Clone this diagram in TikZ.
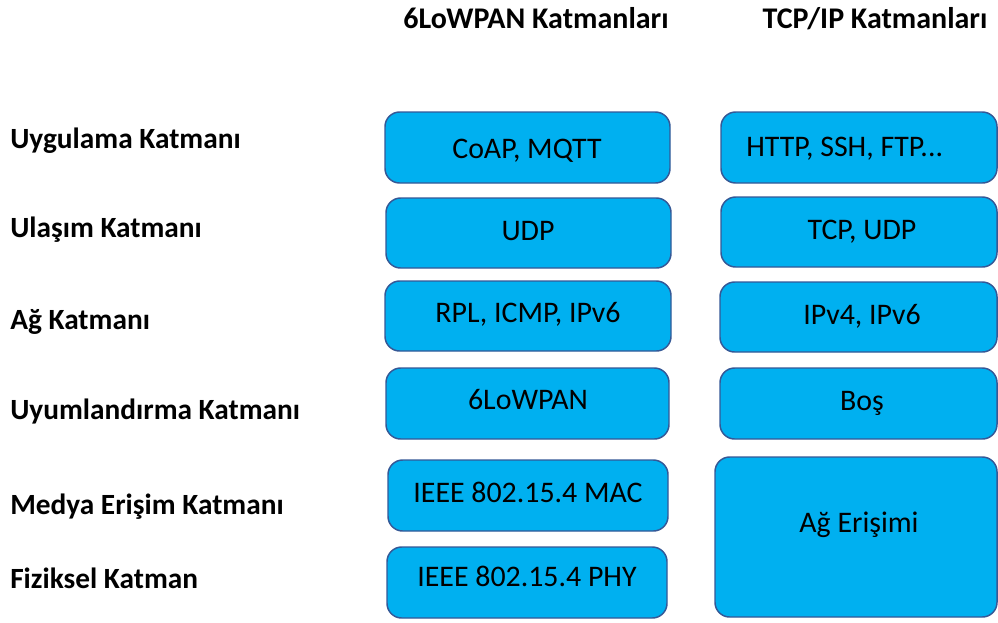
\documentclass[tikz,border=0pt]{standalone}
\usepackage{fontspec}
\setmainfont{Carlito}
\definecolor{layerfill}{RGB}{0,176,240}
\definecolor{layerline}{RGB}{52,88,150}
\tikzset{
  layerbox/.style={draw=layerline, fill=layerfill, line width=1.1pt,
    rounded corners=11pt, inner sep=0pt},
  boxtext/.style={font=\fontsize{22.4}{26}\selectfont, anchor=mid, inner sep=0pt},
  rowlabel/.style={font=\bfseries\fontsize{22}{26}\selectfont, anchor=mid west, inner sep=0pt},
  colhead/.style={font=\bfseries\fontsize{22.5}{26}\selectfont, anchor=mid, inner sep=0pt}
}
\begin{document}
\begin{tikzpicture}[x=0.75pt, y=-0.75pt]
\useasboundingbox (0,0) rectangle (998,622);

% column headings
\node[colhead] (h1) at (536,25) {6LoWPAN Katmanları};
\node[colhead] (h2) at (875,25) {TCP/IP Katmanları};

% layer names
\node[rowlabel] (l1) at (10,145) {Uygulama Katmanı};
\node[rowlabel] (l2) at (10,234) {Ulaşım Katmanı};
\node[rowlabel] (l3) at (10,326) {Ağ Katmanı};
\node[rowlabel] (l4) at (10,416) {Uyumlandırma Katmanı};
\node[rowlabel] (l5) at (10,511) {Medya Erişim Katmanı};
\node[rowlabel] (l6) at (10,585) {Fiziksel Katman};

% 6LoWPAN stack
\draw[layerbox] (385,112) rectangle (670,183) coordinate (a1);
\draw[layerbox] (386,198) rectangle (671,268) coordinate (a2);
\draw[layerbox] (385,281) rectangle (671,351) coordinate (a3);
\draw[layerbox] (386,368) rectangle (669,439) coordinate (a4);
\draw[layerbox] (388,460) rectangle (668,531) coordinate (a5);
\draw[layerbox] (387,547) rectangle (667,618) coordinate (a6);

\node[boxtext] (t1) at (527,155) {CoAP, MQTT};
\node[boxtext] (t2) at (528,237) {UDP};
\node[boxtext] (t3) at (528,319) {RPL, ICMP, IPv6};
\node[boxtext] (t4) at (528,406) {6LoWPAN};
\node[boxtext] (t5) at (528,499) {IEEE 802.15.4 MAC};
\node[boxtext] (t6) at (527,583) {IEEE 802.15.4 PHY};

% TCP/IP stack
\draw[layerbox] (721,112) rectangle (997,183) coordinate (b1);
\draw[layerbox] (721,197) rectangle (997,267) coordinate (b2);
\draw[layerbox] (720,282) rectangle (997,352) coordinate (b3);
\draw[layerbox] (720,368) rectangle (997,439) coordinate (b4);
\draw[layerbox] (715,457) rectangle (997,617) coordinate (b5);

\node[boxtext, anchor=mid west] (u1) at (746,153) {HTTP, SSH, FTP...};
\node[boxtext] (u2) at (862,236) {TCP, UDP};
\node[boxtext] (u3) at (862,321) {IPv4, IPv6};
\node[boxtext] (u4) at (862,407) {Boş};
\node[boxtext] (u5) at (859,529) {Ağ Erişimi};
\end{tikzpicture}
\end{document}
